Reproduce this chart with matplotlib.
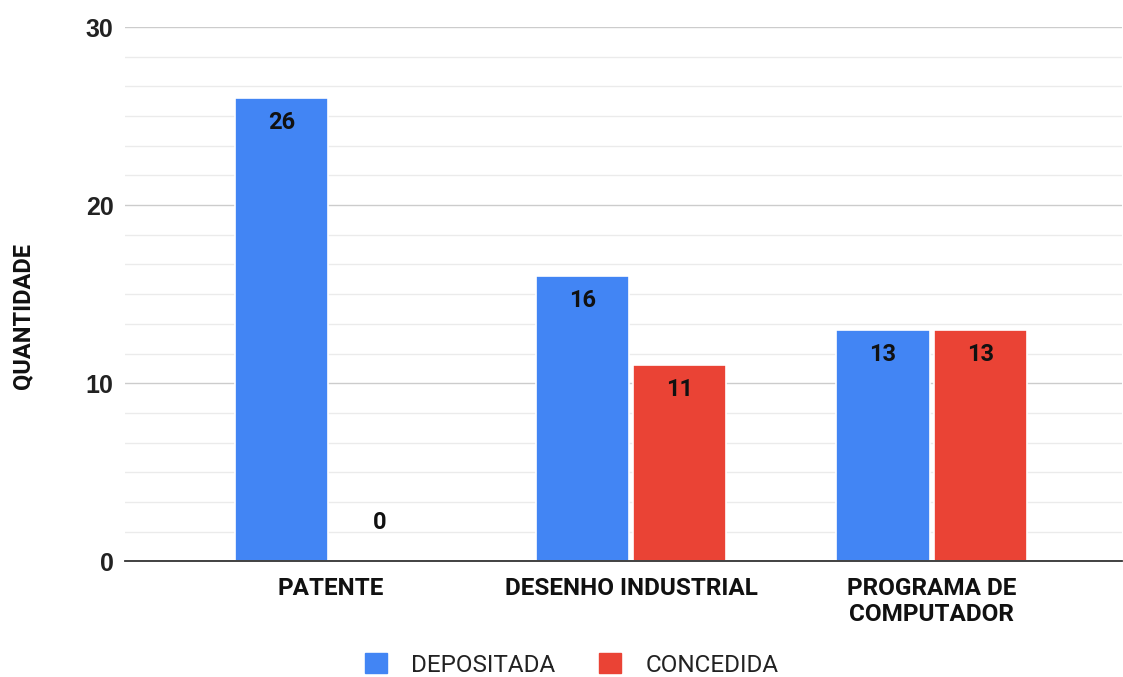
import numpy as np
import matplotlib.pyplot as plt
from matplotlib.ticker import MultipleLocator
from matplotlib.patches import Patch

plt.rcParams['font.family'] = ['Roboto', 'DejaVu Sans']

categorias = ['PATENTE', 'DESENHO INDUSTRIAL', 'PROGRAMA DE\nCOMPUTADOR']
depositada = [26, 16, 13]
concedida = [0, 11, 13]

azul = '#4285F4'
vermelho = '#EA4335'
estreita = ['Liberation Sans Narrow', 'Roboto', 'DejaVu Sans']

fig = plt.figure(figsize=(11.23, 6.77), dpi=100)
ax = fig.add_axes([0.111, 0.171, 0.888, 0.789])

x = np.arange(len(categorias))
w = 0.31
b1 = ax.bar(x - 0.162, depositada, w, color=azul, edgecolor='white', linewidth=1.2, zorder=3)
b2 = ax.bar(x + 0.162, concedida, w, color=vermelho, edgecolor='white', linewidth=1.2, zorder=3)

# rótulos dentro da barra (ou acima, quando for zero)
for bars in (b1, b2):
    for r in bars:
        h = r.get_height()
        cx = r.get_x() + r.get_width() / 2
        dy = -17.5 if h > 2 else 28
        ax.annotate(f'{int(h)}', (cx, h), xytext=(0, dy), textcoords='offset points',
                    ha='center', va='center', fontsize=17, fontweight='bold',
                    color='#111111', zorder=4)

ax.set_xlim(-0.685, 2.633)
ax.set_ylim(0, 30)
ax.yaxis.set_major_locator(MultipleLocator(10))
ax.yaxis.set_minor_locator(MultipleLocator(10 / 6))
ax.grid(axis='y', which='major', color='#cccccc', linewidth=1, zorder=0)
ax.grid(axis='y', which='minor', color='#ebebeb', linewidth=1, zorder=0)

for s in ['top', 'right', 'left']:
    ax.spines[s].set_visible(False)
ax.spines['bottom'].set_color('#333333')
ax.spines['bottom'].set_linewidth(1.3)
ax.spines['bottom'].set_zorder(5)

ax.tick_params(axis='both', which='both', length=0)
ax.tick_params(axis='y', pad=8)
ax.tick_params(axis='x', pad=11)
ax.set_xticks(x)
ax.set_xticklabels(categorias, fontsize=17.5, fontweight='bold', color='#111111',
                   va='top', linespacing=1.2, family=estreita)
for t in ax.get_yticklabels():
    t.set_fontsize(18)
    t.set_fontweight('bold')
    t.set_color('#222222')
    t.set_family(['Liberation Sans', 'Roboto'])

fig.text(0.020, 0.533, 'QUANTIDADE', rotation=90, ha='center', va='center',
         fontsize=17, fontweight='bold', color='#111111', family=estreita)

handles = [Patch(color=azul, label='DEPOSITADA'), Patch(color=vermelho, label='CONCEDIDA')]
fig.legend(handles=handles, loc='center', bbox_to_anchor=(0.509, 0.018), ncol=2, frameon=False,
           prop={'family': estreita, 'size': 17.5}, handlelength=0.9, handleheight=0.9,
           handletextpad=1.0, columnspacing=1.8, labelcolor='#222222')

fig.savefig('out.png', dpi=100)
